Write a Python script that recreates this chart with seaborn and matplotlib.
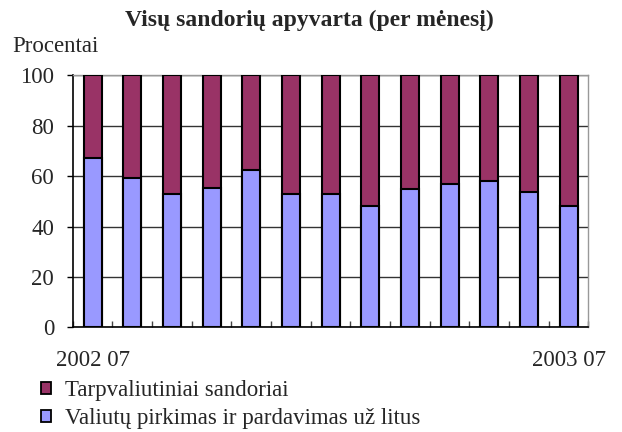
import matplotlib
matplotlib.use("Agg")
import matplotlib.pyplot as plt
from matplotlib.patches import Patch
import seaborn as sns
import pandas as pd
import numpy as np

months = ["2002 07", "2002 08", "2002 09", "2002 10", "2002 11", "2002 12", "2003 01",
          "2003 02", "2003 03", "2003 04", "2003 05", "2003 06", "2003 07"]
valiutu = [67.2, 59.4, 53.0, 55.3, 62.5, 53.0, 53.0, 48.2, 54.7, 56.9, 57.9, 53.8, 48.2]
tarpvaliutiniai = [32.8, 40.6, 47.0, 44.7, 37.5, 47.0, 47.0, 51.8, 45.3, 43.1, 42.1, 46.2, 51.8]
shown_labels = ["2002 07", "", "", "", "", "", "", "", "", "", "", "", "2003 07"]

title = "Visų sandorių apyvarta (per mėnesį)"
ylabel = "Procentai"
lab_top = "Tarpvaliutiniai sandoriai"
lab_bot = "Valiutų pirkimas ir pardavimas už litus"

c_top = "#993366"
c_bot = "#9999FF"
FS = 16.5

sns.set_theme(style="white")
plt.rcParams["font.family"] = ["Liberation Serif", "DejaVu Serif"]

df = pd.DataFrame({"month": months, "bot": valiutu, "top": tarpvaliutiniai})
df["total"] = df["bot"] + df["top"]

fig = plt.figure(figsize=(6.22, 4.32), dpi=100)
ax = fig.add_axes([0.117, 0.242, 0.829, 0.584])

sns.barplot(data=df, x="month", y="total", color=c_top, saturation=1, width=0.45,
            edgecolor="black", linewidth=1.5, ax=ax, zorder=3)
sns.barplot(data=df, x="month", y="bot", color=c_bot, saturation=1, width=0.45,
            edgecolor="black", linewidth=1.5, ax=ax, zorder=4)

ax.set_ylim(0, 100)
ax.set_xlim(-0.5, len(months) - 0.5)
ax.set_yticks([0, 20, 40, 60, 80, 100])
ax.set_yticklabels(["0", "20", "40", "60", "80", "100"], fontsize=FS)
ax.yaxis.grid(True, color="#333333", linewidth=1.0, zorder=0)
ax.set_axisbelow(True)
ax.set_xlabel("")
ax.set_ylabel("")

ax.set_xticks(range(len(months)))
ax.set_xticklabels(shown_labels, fontsize=FS)
ax.tick_params(axis="x", length=0, pad=16)
ax.tick_params(axis="y", length=4.5, width=1, direction="out", color="black", pad=9, left=True)
ax.set_xticks(np.arange(-0.5, len(months) + 0.5, 1), minor=True)
ax.tick_params(axis="x", which="minor", length=4, direction="in", color="#444444", bottom=True)

for side in ["left", "bottom"]:
    ax.spines[side].set_color("black")
    ax.spines[side].set_linewidth(1.2)
for side in ["top", "right"]:
    ax.spines[side].set_color("#999999")
    ax.spines[side].set_linewidth(1.0)

fig.text(0.497, 0.952, title, ha="center", va="center", fontsize=17, fontweight="bold")
fig.text(0.02, 0.892, ylabel, ha="left", va="center", fontsize=FS)

handles = [Patch(facecolor=c_top, edgecolor="black", linewidth=1.3, label=lab_top),
           Patch(facecolor=c_bot, edgecolor="black", linewidth=1.3, label=lab_bot)]
fig.legend(handles=handles, loc="upper left", bbox_to_anchor=(0.066, 0.12), frameon=False,
           fontsize=FS, handlelength=0.45, handleheight=0.45, handletextpad=0.6,
           labelspacing=0.3, borderpad=0, borderaxespad=0)

fig.savefig("out.png", dpi=100)
